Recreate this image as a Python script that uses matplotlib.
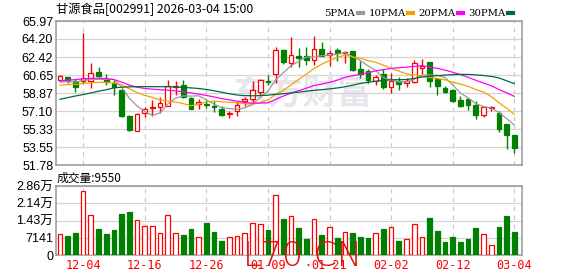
"""K-line chart for 甘源食品 (002991): daily candles + PMA lines + volume."""
import matplotlib
matplotlib.use("Agg")
import matplotlib.pyplot as plt
import numpy as np

plt.rcParams["font.family"] = ["Liberation Sans", "Noto Sans CJK SC"]

TITLE = "甘源食品[002991] 2026-03-04 15:00"
VOL_TITLE = "成交量:9550"

# --- data --------------------------------------------------------------
opens = [60.12, 60.42, 60.03, 60.05, 60.02, 60.95, 60.24, 59.86, 59.16, 56.61,
         55.13, 56.88, 57.37, 57.46, 57.63, 59.50, 59.65, 58.40, 57.80, 57.75,
         57.55, 57.30, 56.82, 57.07, 58.12, 58.27, 59.02, 60.10, 60.75, 63.15,
         61.86, 62.50, 62.52, 62.14, 63.20, 62.64, 63.12, 62.85, 63.00, 61.25,
         61.00, 60.05, 60.75, 59.43, 60.03, 59.83, 60.00, 61.30, 61.90, 60.25,
         59.40, 59.17, 58.19, 58.25, 57.66, 56.75, 57.38, 56.95, 55.80, 54.75]
highs = [60.60, 60.50, 60.25, 64.78, 61.85, 61.41, 60.75, 60.13, 59.25, 56.70,
         56.88, 57.53, 58.20, 58.53, 60.18, 60.10, 60.18, 58.45, 58.25, 58.20,
         58.10, 57.55, 57.10, 58.06, 58.45, 60.05, 60.26, 60.62, 63.42, 63.25,
         64.38, 63.33, 63.42, 64.52, 63.93, 63.16, 63.35, 63.00, 63.05, 62.00,
         61.20, 60.62, 61.25, 60.85, 60.42, 60.36, 62.10, 62.22, 61.95, 60.40,
         59.57, 59.25, 58.58, 58.38, 58.08, 57.62, 57.60, 57.08, 55.82, 54.78]
lows = [60.05, 59.85, 59.02, 59.85, 59.32, 60.42, 59.70, 58.71, 56.55, 55.13,
        55.10, 56.50, 56.65, 56.90, 57.55, 58.70, 58.35, 57.25, 57.30, 57.40,
        57.00, 56.60, 56.38, 56.64, 57.60, 58.03, 58.68, 59.62, 59.85, 61.70,
        61.45, 61.42, 61.64, 61.65, 62.50, 61.55, 62.02, 61.80, 61.05, 60.40,
        59.90, 59.70, 59.30, 58.90, 59.20, 59.50, 59.85, 60.75, 59.50, 58.72,
        58.90, 57.97, 57.53, 57.20, 56.33, 56.55, 57.10, 55.08, 53.38, 53.00]
closes = [60.52, 60.03, 59.43, 60.32, 60.81, 60.52, 59.99, 59.43, 56.61, 55.23,
          56.78, 57.27, 57.45, 57.86, 59.60, 59.60, 58.45, 57.33, 58.00, 57.65,
          57.45, 56.71, 56.90, 57.66, 58.32, 59.20, 60.15, 60.00, 63.15, 61.90,
          62.60, 62.28, 62.13, 63.20, 62.53, 62.85, 62.80, 62.90, 61.15, 60.72,
          60.17, 60.50, 59.42, 60.03, 59.80, 60.03, 61.85, 61.50, 60.10, 59.58,
          59.02, 58.10, 57.62, 57.68, 56.72, 57.53, 57.47, 55.35, 54.75, 53.48]
volumes = [8556, 7866, 9108, 26358, 16422, 10764, 8694, 10350, 16974, 17802,
           14352, 11868, 11868, 8970, 16422, 8970, 8280, 10764, 7314, 13248,
           9522, 5796, 7314, 7728, 8970, 13110, 12696, 10350, 24702, 14904,
           16146, 11178, 6624, 14766, 8280, 11454, 6900, 9384, 9108, 7452,
           7038, 9108, 10764, 11454, 5796, 6486, 12834, 7452, 15318, 9936,
           5382, 7452, 5382, 6486, 11178, 8694, 4140, 11592, 16146, 9550]

ma5 = [59.95, 60.00, 59.95, 60.10, 60.22, 60.22, 60.21, 60.21, 59.47, 58.36,
       57.61, 57.06, 56.67, 56.92, 57.79, 58.36, 58.59, 58.57, 58.60, 58.21,
       57.78, 57.43, 57.34, 57.27, 57.41, 57.76, 58.45, 59.07, 60.16, 60.88,
       61.56, 61.99, 62.41, 62.42, 62.55, 62.60, 62.70, 62.86, 62.45, 62.08,
       61.55, 61.09, 60.39, 60.17, 59.98, 59.96, 60.23, 60.64, 60.66, 60.61,
       60.41, 59.66, 58.88, 58.40, 57.83, 57.53, 57.40, 56.95, 56.36, 55.72]
ma10 = [59.65, 59.70, 59.72, 59.80, 59.88, 59.93, 59.92, 59.85, 59.70, 59.29,
        58.92, 58.64, 58.44, 58.20, 58.07, 57.98, 57.83, 57.62, 57.76, 58.00,
        58.07, 58.01, 57.96, 57.94, 57.81, 57.77, 57.94, 58.20, 58.72, 59.14,
        59.66, 60.22, 60.74, 61.29, 61.71, 62.08, 62.34, 62.63, 62.43, 62.32,
        62.07, 61.90, 61.62, 61.31, 61.03, 60.75, 60.66, 60.52, 60.41, 60.30,
        60.18, 59.94, 59.76, 59.53, 59.22, 58.97, 58.53, 57.92, 57.38, 56.77]
ma20 = [60.06, 60.14, 60.20, 60.27, 60.32, 60.33, 60.30, 60.20, 59.95, 59.65,
        59.45, 59.32, 59.25, 59.20, 59.15, 59.08, 59.00, 58.88, 58.77, 58.64,
        58.49, 58.32, 58.20, 58.07, 57.94, 57.87, 57.88, 57.91, 58.24, 58.57,
        58.86, 59.11, 59.35, 59.61, 59.76, 59.92, 60.14, 60.42, 60.58, 60.73,
        60.87, 61.06, 61.18, 61.30, 61.37, 61.42, 61.50, 61.58, 61.42, 61.31,
        61.13, 60.92, 60.69, 60.42, 60.13, 59.86, 59.59, 59.22, 58.90, 58.54]
ma30 = [58.26, 58.42, 58.58, 58.72, 58.88, 59.05, 59.20, 59.38, 59.45, 59.48,
        59.50, 59.50, 59.50, 59.50, 59.50, 59.47, 59.43, 59.38, 59.32, 59.22,
        59.10, 58.95, 58.80, 58.68, 58.62, 58.60, 58.62, 58.66, 58.74, 58.81,
        58.88, 58.96, 59.05, 59.14, 59.20, 59.28, 59.37, 59.49, 59.64, 59.82,
        59.93, 60.04, 60.11, 60.18, 60.19, 60.20, 60.31, 60.45, 60.52, 60.59,
        60.64, 60.68, 60.71, 60.71, 60.66, 60.60, 60.51, 60.36, 60.08, 59.80]

date_idx = [3, 11, 19, 27, 35, 43, 51, 59]
date_labels = ["12-04", "12-16", "12-26", "01-09", "01-21", "02-02", "02-12", "03-04"]

price_ticks = [51.78, 53.55375, 55.3275, 57.10125, 58.875, 60.64875, 62.4225, 64.19625, 65.97]
price_labels = ["51.78", "53.55", "55.33", "57.10", "58.87", "60.65", "62.42", "64.20", "65.97"]
vol_ticks = [0, 7141, 14282, 21423, 28564]
vol_labels = ["0", "7141", "1.43万", "2.14万", "2.86万"]

W, H = 578, 276
RED = "#ff0000"
GREEN = "#008000"
FRAME = "#999999"
GRID = "#d4d4d4"
MA_COLORS = {"5PMA": "#999999", "10PMA": "#f5a200", "20PMA": "#ff00ff", "30PMA": "#006a3a"}


def _style(ax):
    for sp in ax.spines.values():
        sp.set_color(FRAME)
        sp.set_linewidth(1.1)
    ax.set_xlim(-0.52, 60.0)
    ax.set_xticks(date_idx)
    ax.grid(axis="y", color=GRID, lw=0.9, ls="-")
    ax.grid(axis="x", color="#c8c8c8", lw=0.8, ls=(0, (4, 4)))
    ax.set_axisbelow(True)
    ax.tick_params(length=0, labelsize=9, pad=2)


def main():
    o = np.array(opens)
    c = np.array(closes)
    hi = np.array(highs)
    lo = np.array(lows)
    x = np.arange(len(o))
    up = c >= o
    edge = np.where(up, RED, GREEN)
    face = np.where(up, "white", GREEN)

    fig = plt.figure(figsize=(W / 100, H / 100), dpi=100)
    ax = fig.add_axes([56 / W, 1 - 165 / H, 466 / W, 144 / H])
    axv = fig.add_axes([56 / W, 1 - 255 / H, 466 / W, 69 / H])

    # price panel
    _style(ax)
    ax.set_ylim(51.78, 65.97)
    ax.set_yticks(price_ticks)
    ax.set_yticklabels(price_labels)
    ax.set_xticklabels([])
    ax.vlines(x, lo, hi, colors=edge, lw=1.0, zorder=2)
    body = np.maximum(np.abs(c - o), 0.04)
    ax.bar(x, body, bottom=np.minimum(o, c), width=0.62, color=face,
           edgecolor=edge, linewidth=0.9, zorder=3)
    for name, vals in zip(MA_COLORS, [ma5, ma10, ma20, ma30]):
        ax.plot(x, vals, color=MA_COLORS[name], lw=0.9, zorder=4, label=name)
    leg = ax.legend(loc="lower right", bbox_to_anchor=(0.98, 1.02), ncol=4,
                    frameon=False, markerfirst=False, handlelength=0.5,
                    handletextpad=0.2, columnspacing=0.55, borderaxespad=0,
                    borderpad=0, prop={"family": ["DejaVu Serif"], "size": 7.3})
    for ln in leg.get_lines():
        ln.set_linewidth(3.0)

    # watermark
    ax.text(0.53, 0.50, "东方财富", transform=ax.transAxes, fontsize=25,
            color="#e6e6ec", ha="center", va="center", zorder=1,
            family=["Noto Sans CJK SC"], fontweight="bold")

    # volume panel
    _style(axv)
    axv.set_ylim(0, 28564)
    axv.set_yticks(vol_ticks)
    axv.set_yticklabels(vol_labels)
    axv.set_xticklabels(date_labels, color=RED, family=["DejaVu Sans Mono"], fontsize=8.5)
    axv.tick_params(axis="x", pad=3)
    axv.bar(x, volumes, width=0.6, color=face, edgecolor=edge, linewidth=0.9, zorder=3)

    fig.text(56 / W, 1 - 9 / H, TITLE, fontsize=8.8, va="center", ha="left",
             family=["Noto Sans CJK SC", "DejaVu Sans"])
    fig.text(57 / W, 1 - 178 / H, VOL_TITLE, fontsize=8.5, va="center", ha="left",
             family=["Noto Sans CJK SC", "DejaVu Sans"])
    fig.text(243 / W, 1 - 256 / H, "L70.CN", fontsize=24, color="#e01010",
             va="center", ha="left", family=["DejaVu Sans"], fontweight="light", zorder=10)

    fig.savefig("out.png", dpi=100)
    return 0


if __name__ == "__main__":
    raise SystemExit(main())
